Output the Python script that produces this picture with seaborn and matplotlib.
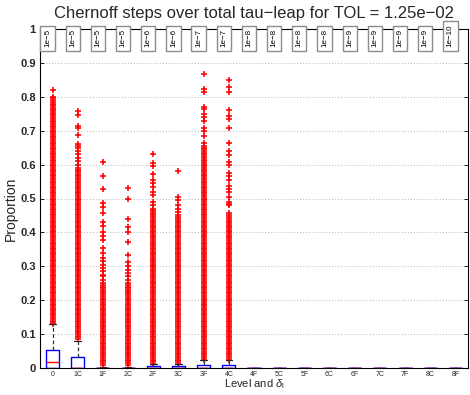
import matplotlib
matplotlib.use("Agg")
import matplotlib.pyplot as plt
import seaborn as sns
import pandas as pd

# ---------------- data ----------------
levels = ["0", "1C", "1F", "2C", "2F", "3C", "3F", "4C", "4F",
          "5C", "5F", "6C", "6F", "7C", "7F", "8C", "8F"]
tol_labels = ["1e−5", "1e−5", "1e−5", "1e−5", "1e−6", "1e−6", "1e−7", "1e−7",
              "1e−8", "1e−8", "1e−8", "1e−8", "1e−9", "1e−9", "1e−9", "1e−9",
              "1e−10"]

box_q1 = [0, 0, 0, 0, 0, 0, 0, 0, 0, 0, 0, 0, 0, 0, 0, 0, 0]
box_med = [0.018, 0, 0, 0, 0, 0, 0, 0, 0, 0, 0, 0, 0, 0, 0, 0, 0]
box_q3 = [0.053, 0.033, 0.001, 0.001, 0.007, 0.007, 0.010, 0.010, 0,
          0, 0, 0, 0, 0, 0, 0, 0]
whisk_lo = [0, 0, 0, 0, 0, 0, 0, 0, 0, 0, 0, 0, 0, 0, 0, 0, 0]
whisk_hi = [0.13, 0.08, 0.004, 0.004, 0.013, 0.013, 0.025, 0.023, 0,
            0, 0, 0, 0, 0, 0, 0, 0]

# outlier proportions, in thousandths (per mille)
fliers_0 = [130, 135, 140, 145, 150, 155, 160, 165, 170, 175,
            180, 185, 190, 195, 200, 205, 210, 215, 220, 225,
            230, 235, 240, 245, 250, 255, 260, 265, 270, 275,
            280, 285, 290, 295, 300, 305, 310, 315, 320, 325,
            330, 335, 340, 345, 350, 355, 360, 365, 370, 375,
            380, 385, 390, 395, 400, 405, 410, 415, 420, 425,
            430, 435, 440, 445, 450, 455, 460, 465, 470, 475,
            480, 485, 490, 495, 500, 505, 510, 515, 520, 525,
            530, 535, 540, 545, 550, 555, 560, 565, 570, 575,
            580, 585, 590, 595, 600, 605, 610, 615, 620, 625,
            630, 635, 640, 645, 650, 655, 660, 665, 670, 675,
            680, 685, 690, 695, 700, 705, 710, 715, 720, 725,
            730, 735, 740, 745, 750, 755, 760, 765, 770, 775,
            780, 785, 790, 795, 800, 820]
fliers_1C = [85, 90, 95, 100, 105, 110, 115, 120, 125,
             130, 135, 140, 145, 150, 155, 160, 165, 170, 175,
             180, 185, 190, 195, 200, 205, 210, 215, 220, 225,
             230, 235, 240, 245, 250, 255, 260, 265, 270, 275,
             280, 285, 290, 295, 300, 305, 310, 315, 320, 325,
             330, 335, 340, 345, 350, 355, 360, 365, 370, 375,
             380, 385, 390, 395, 400, 405, 410, 415, 420, 425,
             430, 435, 440, 445, 450, 455, 460, 465, 470, 475,
             480, 485, 490, 495, 500, 505, 510, 515, 520, 525,
             530, 535, 540, 545, 550, 555, 560, 565, 570, 575,
             580, 585, 590, 600, 610, 620, 630, 640, 650, 655,
             660, 686, 708, 713, 745, 757]
fliers_1F = [10, 15, 20, 25, 30, 35, 40, 45, 50, 55, 60, 65, 70, 75,
             80, 85, 90, 95, 100, 105, 110, 115, 120, 125,
             130, 135, 140, 145, 150, 155, 160, 165, 170, 175,
             180, 185, 190, 195, 200, 205, 210, 215, 220, 225,
             230, 235, 240, 245, 250, 260, 270, 275, 285, 295,
             305, 315, 325, 340, 355, 378, 390, 400, 420, 432,
             458, 476, 488, 527, 565, 609]
fliers_2C = [10, 15, 20, 25, 30, 35, 40, 45, 50, 55, 60, 65, 70, 75,
             80, 85, 90, 95, 100, 105, 110, 115, 120, 125,
             130, 135, 140, 145, 150, 155, 160, 165, 170, 175,
             180, 185, 190, 195, 200, 205, 210, 215, 220, 225,
             230, 235, 240, 245, 250, 260, 270, 280, 290, 300,
             314, 334, 373, 400, 417, 440, 500, 530]
fliers_2F = [15, 20, 25, 30, 35, 40, 45, 50, 55, 60, 65, 70, 75,
             80, 85, 90, 95, 100, 105, 110, 115, 120, 125,
             130, 135, 140, 145, 150, 155, 160, 165, 170, 175,
             180, 185, 190, 195, 200, 205, 210, 215, 220, 225,
             230, 235, 240, 245, 250, 255, 260, 265, 270, 275,
             280, 285, 290, 295, 300, 305, 310, 315, 320, 325,
             330, 335, 340, 345, 350, 355, 360, 365, 370, 375,
             380, 385, 390, 395, 400, 405, 410, 415, 420, 425,
             430, 435, 440, 445, 450, 455, 460, 465, 470, 480,
             490, 510, 520, 535, 545, 556, 571, 595, 606, 630]
fliers_3C = [15, 20, 25, 30, 35, 40, 45, 50, 55, 60, 65, 70, 75,
             80, 85, 90, 95, 100, 105, 110, 115, 120, 125,
             130, 135, 140, 145, 150, 155, 160, 165, 170, 175,
             180, 185, 190, 195, 200, 205, 210, 215, 220, 225,
             230, 235, 240, 245, 250, 255, 260, 265, 270, 275,
             280, 285, 290, 295, 300, 305, 310, 315, 320, 325,
             330, 335, 340, 345, 350, 355, 360, 365, 370, 375,
             380, 385, 390, 395, 400, 405, 410, 415, 420, 425,
             430, 435, 440, 445, 450, 460, 470, 482, 497, 503,
             580]
fliers_3F = [25, 30, 35, 40, 45, 50, 55, 60, 65, 70, 75,
             80, 85, 90, 95, 100, 105, 110, 115, 120, 125,
             130, 135, 140, 145, 150, 155, 160, 165, 170, 175,
             180, 185, 190, 195, 200, 205, 210, 215, 220, 225,
             230, 235, 240, 245, 250, 255, 260, 265, 270, 275,
             280, 285, 290, 295, 300, 305, 310, 315, 320, 325,
             330, 335, 340, 345, 350, 355, 360, 365, 370, 375,
             380, 385, 390, 395, 400, 405, 410, 415, 420, 425,
             430, 435, 440, 445, 450, 455, 460, 465, 470, 475,
             480, 485, 490, 495, 500, 505, 510, 515, 520, 525,
             530, 535, 540, 545, 550, 555, 560, 565, 570, 575,
             580, 585, 590, 595, 600, 605, 610, 615, 620, 625,
             630, 635, 640, 645, 650, 655, 663, 683, 700, 707,
             728, 740, 750, 763, 769, 814, 822, 867]
fliers_4C = [25, 30, 35, 40, 45, 50, 55, 60, 65, 70, 75,
             80, 85, 90, 95, 100, 105, 110, 115, 120, 125,
             130, 135, 140, 145, 150, 155, 160, 165, 170, 175,
             180, 185, 190, 195, 200, 205, 210, 215, 220, 225,
             230, 235, 240, 245, 250, 255, 260, 265, 270, 275,
             280, 285, 290, 295, 300, 305, 310, 315, 320, 325,
             330, 335, 340, 345, 350, 355, 360, 365, 370, 375,
             380, 385, 390, 395, 400, 405, 410, 415, 420, 425,
             430, 435, 440, 445, 450, 458, 480, 485, 490, 503,
             518, 527, 538, 555, 565, 574, 600, 607, 627, 639,
             663, 707, 734, 743, 760, 814, 828, 849]

fliers_permille = {"0": fliers_0, "1C": fliers_1C, "1F": fliers_1F,
                   "2C": fliers_2C, "2F": fliers_2F, "3C": fliers_3C,
                   "3F": fliers_3F, "4C": fliers_4C}

y_ticks = [0, 0.1, 0.2, 0.3, 0.4, 0.5, 0.6, 0.7, 0.8, 0.9, 1]
y_tick_labels = ["0", "0.1", "0.2", "0.3", "0.4", "0.5", "0.6", "0.7", "0.8",
                 "0.9", "1"]

# ---------------- figure ----------------
sns.set_theme(style="white")
plt.rcParams["font.family"] = ["Liberation Sans", "DejaVu Sans"]
plt.rcParams["mathtext.fontset"] = "custom"
plt.rcParams["mathtext.rm"] = "Liberation Sans"
plt.rcParams["mathtext.it"] = "Liberation Sans:italic"

fig = plt.figure(figsize=(4.70, 3.95), dpi=100)
ax = fig.add_axes([40 / 470, 1 - 368 / 395, 428 / 470, 339 / 395])

rows = [(lv, v / 1000.0) for lv in levels for v in fliers_permille.get(lv, [])]
df = pd.DataFrame(rows, columns=["level", "value"])

sns.stripplot(data=df, x="level", y="value", order=levels, jitter=False,
              marker="+", color="#ff0000", size=4.8, linewidth=1.15, ax=ax,
              zorder=3)

stats = []
for i, lv in enumerate(levels):
    stats.append(dict(q1=box_q1[i], med=box_med[i], q3=box_q3[i],
                      whislo=whisk_lo[i], whishi=whisk_hi[i], fliers=[]))
ax.bxp(stats, positions=list(range(len(levels))), widths=0.52,
       capwidths=0.26, showfliers=False, manage_ticks=False,
       boxprops=dict(color="#0000ff", linewidth=1.0),
       medianprops=dict(color="#ff0000", linewidth=1.0),
       whiskerprops=dict(color="#333333", linestyle=(0, (3, 2)), linewidth=0.9),
       capprops=dict(color="#222222", linewidth=0.9), zorder=4)

ax.set_xlim(-0.5, len(levels) - 0.5)
ax.set_ylim(0, 1)
ax.set_yticks(y_ticks)
ax.set_yticklabels(y_tick_labels, fontsize=8, fontweight="bold")
ax.set_xticks(list(range(len(levels))))
ax.set_xticklabels(levels, fontsize=5)
ax.tick_params(axis="y", direction="in", length=3, width=0.6, right=True,
               left=True, pad=3, color="black")
ax.tick_params(axis="x", length=0, pad=2)

ax.yaxis.grid(True, linestyle=(0, (1, 2)), color="#b8b8b8", linewidth=0.7)
ax.xaxis.grid(False)
ax.set_axisbelow(True)
for s in ax.spines.values():
    s.set_color("black")
    s.set_linewidth(0.8)

ax.set_title("Chernoff steps over total tau−leap for TOL = 1.25e−02",
             fontsize=12, pad=8)
ax.set_ylabel("Proportion", fontsize=10)
ax.yaxis.set_label_coords(-0.051, 0.47)
ax.set_xlabel(r"Level and $\delta_{\rm l}$", fontsize=8)
ax.xaxis.set_label_coords(0.5, -0.026)

for i, lab in enumerate(tol_labels):
    ax.text(i - 0.2, 0.946, lab, rotation=90, ha="center", va="bottom",
            fontsize=5.8, color="black", zorder=6,
            bbox=dict(boxstyle="square,pad=0.45", facecolor="white",
                      edgecolor="#8c8c8c", linewidth=1.0))

fig.savefig("out.png", dpi=100)
